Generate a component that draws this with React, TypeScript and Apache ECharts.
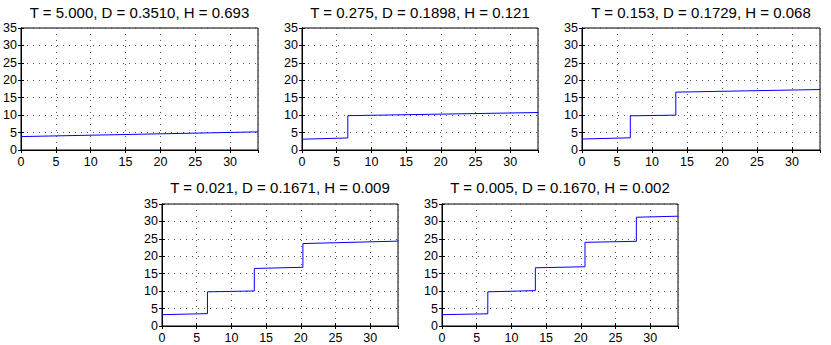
import React, { useEffect, useRef } from "react";
import * as echarts from "echarts";

const titles = [
  "T = 5.000, D = 0.3510, H = 0.693",
  "T = 0.275, D = 0.1898, H = 0.121",
  "T = 0.153, D = 0.1729, H = 0.068",
  "T = 0.021, D = 0.1671, H = 0.009",
  "T = 0.005, D = 0.1670, H = 0.002",
];

const xMax = 34;
const yMax = 35;

// x positions of the jumps, and the value at start / end of each flat segment
const jumps1: number[] = [];
const starts1 = [3.85];
const ends1 = [5.2];

const jumps2 = [6.6];
const starts2 = [3.1, 9.85];
const ends2 = [3.45, 10.75];

const jumps3 = [6.9, 13.4];
const starts3 = [3.15, 9.8, 16.6];
const ends3 = [3.5, 10.0, 17.35];

const jumps4 = [6.55, 13.3, 20.3];
const starts4 = [3.25, 9.8, 16.5, 23.65];
const ends4 = [3.55, 10.05, 16.85, 24.35];

const jumps5 = [6.6, 13.45, 20.6, 28.0];
const starts5 = [3.25, 9.8, 16.7, 24.0, 31.2];
const ends5 = [3.5, 10.15, 17.0, 24.3, 31.5];

const panelsData = [
  [jumps1, starts1, ends1],
  [jumps2, starts2, ends2],
  [jumps3, starts3, ends3],
  [jumps4, starts4, ends4],
  [jumps5, starts5, ends5],
] as [number[], number[], number[]][];

// layout (pixels)
const boxes = [
  { left: 21, top: 28, width: 237, height: 122, tcx: 139.5, tcy: 12.3 },
  { left: 302, top: 28, width: 236, height: 122, tcx: 420, tcy: 12.3 },
  { left: 582, top: 28, width: 238, height: 122, tcx: 701, tcy: 12.3 },
  { left: 162, top: 204, width: 236, height: 122, tcx: 280, tcy: 187 },
  { left: 442, top: 204, width: 236, height: 122, tcx: 560, tcy: 187 },
];

function buildPoints(jumps: number[], starts: number[], ends: number[]) {
  const pts: [number, number][] = [];
  for (let i = 0; i < starts.length; i++) {
    const x0 = i === 0 ? 0 : jumps[i - 1];
    const x1 = i < jumps.length ? jumps[i] : xMax;
    pts.push([x0, starts[i]]);
    pts.push([x1, ends[i]]);
  }
  return pts;
}

const FONT = "'Liberation Sans', Arial, Helvetica, sans-serif";

export default function App() {
  const ref = useRef<HTMLDivElement>(null);
  useEffect(() => {
    if (!ref.current) return;
    const chart = echarts.init(ref.current, undefined, { renderer: "svg" });
    const grid = boxes.map((b) => ({
      left: b.left,
      top: b.top,
      width: b.width,
      height: b.height,
      show: true,
      borderColor: "#000",
      borderWidth: 1,
      backgroundColor: "#fff",
      containLabel: false,
    }));
    const splitLine = {
      show: true,
      lineStyle: { color: "#555", width: 1, type: [1, 5] as any },
    };
    const tick = { show: true, inside: true, length: 3, lineStyle: { color: "#000" } };
    const axisLine = { show: true, lineStyle: { color: "#000", width: 1 } };
    const labelBase = { color: "#000", fontSize: 12.5, fontFamily: FONT };
    const xAxis: any[] = [];
    const yAxis: any[] = [];
    boxes.forEach((_, i) => {
      xAxis.push({
        type: "value",
        gridIndex: i,
        min: 0,
        max: xMax,
        interval: 5,
        axisLine,
        axisTick: tick,
        axisLabel: { ...labelBase, show: true, margin: 5, showMaxLabel: false },
        splitLine,
      });
      yAxis.push({
        type: "value",
        gridIndex: i,
        min: 0,
        max: yMax,
        interval: 5,
        axisLine,
        axisTick: tick,
        axisLabel: { ...labelBase, show: true, margin: 4 },
        splitLine,
      });
    });
    boxes.forEach((_, i) => {
      xAxis.push({
        type: "value",
        gridIndex: i,
        position: "top",
        min: 0,
        max: xMax,
        interval: 5,
        axisLine,
        axisTick: tick,
        axisLabel: { show: false },
        splitLine: { show: false },
      });
      yAxis.push({
        type: "value",
        gridIndex: i,
        position: "right",
        min: 0,
        max: yMax,
        interval: 5,
        axisLine,
        axisTick: tick,
        axisLabel: { show: false },
        splitLine: { show: false },
      });
    });
    const series = panelsData.map(([j, s, e], i) => ({
      type: "line",
      xAxisIndex: i,
      yAxisIndex: i,
      data: buildPoints(j, s, e),
      showSymbol: false,
      symbol: "none",
      lineStyle: { color: "#0000ff", width: 1 },
      itemStyle: { color: "#0000ff" },
      z: 3,
    }));
    const graphic = boxes.map((b, i) => ({
      type: "text",
      x: b.tcx,
      y: b.tcy,
      style: {
        text: titles[i],
        fill: "#000",
        font: `15px ${FONT}`,
        textAlign: "center",
        textVerticalAlign: "middle",
      },
    }));
    chart.setOption({
      animation: false,
      backgroundColor: "#fff",
      grid,
      xAxis,
      yAxis,
      series,
      graphic,
    } as any);
    return () => chart.dispose();
  }, []);
  return (
    <div
      ref={ref}
      style={{ position: "fixed", left: 0, top: 0, width: 831, height: 345, background: "#fff" }}
    />
  );
}
